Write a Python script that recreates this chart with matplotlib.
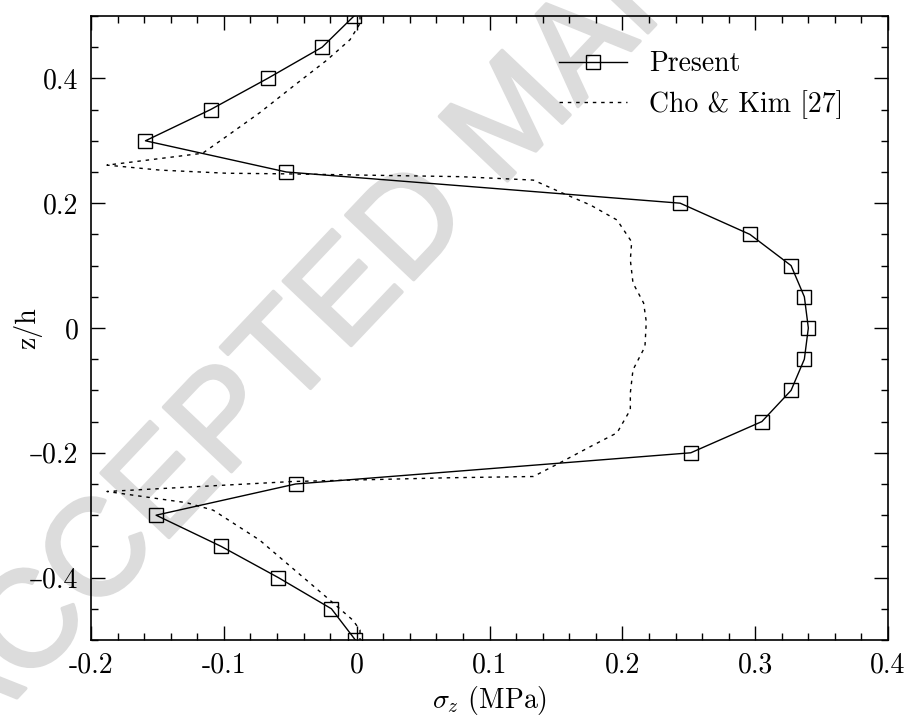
import matplotlib
matplotlib.use("Agg")
import matplotlib.pyplot as plt
import matplotlib.patheffects as pe
from matplotlib.ticker import MultipleLocator

plt.rcParams['font.family'] = ['cmr10', 'DejaVu Serif']
plt.rcParams['mathtext.fontset'] = 'cm'
plt.rcParams['axes.unicode_minus'] = False
plt.rcParams['axes.formatter.use_mathtext'] = True

# Present
z_present = [0.5, 0.45, 0.4, 0.35, 0.3, 0.25, 0.2, 0.15, 0.1, 0.05, 0.0,
             -0.05, -0.1, -0.15, -0.2, -0.25, -0.3, -0.35, -0.4, -0.45, -0.5]
s_present = [-0.002, -0.026, -0.067, -0.110, -0.159, -0.053, 0.2435, 0.296, 0.327, 0.337, 0.340,
             0.337, 0.327, 0.305, 0.2515, -0.046, -0.151, -0.102, -0.059, -0.019, -0.001]

# Cho & Kim [27]
z_cho = [0.5, 0.488, 0.462, 0.429, 0.387, 0.345, 0.307, 0.280, 0.261, 0.253, 0.248, 0.247,
         0.2425, 0.237, 0.218, 0.197, 0.173, 0.138, 0.109, 0.072, 0.040, 0.010,
         -0.030, -0.067, -0.104, -0.131, -0.168, -0.190, -0.216, -0.238, -0.240, -0.246,
         -0.262, -0.280, -0.292, -0.340, -0.431, -0.468, -0.484, -0.5]
s_cho = [0.0025, 0.0025, -0.005, -0.0226, -0.048, -0.073, -0.098, -0.116, -0.188, -0.148, -0.098, -0.053,
         0.078, 0.133, 0.153, 0.176, 0.196, 0.207, 0.206, 0.208, 0.216, 0.218,
         0.217, 0.208, 0.206, 0.206, 0.196, 0.176, 0.153, 0.133, 0.070, -0.048,
         -0.188, -0.128, -0.108, -0.073, -0.023, -0.003, 0.0025, 0.0025]

xticks = [-0.2, -0.1, 0.0, 0.1, 0.2, 0.3, 0.4]
xticklabels = ['-0.2', '-0.1', '0', '0.1', '0.2', '0.3', '0.4']
yticks = [-0.4, -0.2, 0.0, 0.2, 0.4]
yticklabels = ['\u20130.4', '\u20130.2', '0', '0.2', '0.4']

fig = plt.figure(figsize=(9.11, 7.23), dpi=100)
ax = fig.add_axes([0.0999, 0.1148, 0.8749, 0.8631])
ax.patch.set_alpha(0)

wm = fig.text(0.594, 0.799, 'ACCEPTED MANUSCRIPT', family='Liberation Sans', fontweight='normal',
              fontsize=98, rotation=46.5, color='#dcdcdc', ha='center', va='baseline',
              zorder=-5, rotation_mode='anchor')
wm.set_path_effects([pe.withStroke(linewidth=2.5, foreground='#dcdcdc')])

ax.plot(s_present, z_present, '-', color='black', lw=1.0, marker='s', ms=10,
        mfc='none', mec='black', mew=1.0, label='Present', zorder=3)
ax.plot(s_cho, z_cho, color='black', lw=1.0, linestyle=(0, (2.5, 3.5)),
        label='Cho & Kim [27]', zorder=2)

ax.set_xlim(-0.2, 0.4)
ax.set_ylim(-0.5, 0.5)
ax.set_xticks(xticks)
ax.set_xticklabels(xticklabels)
ax.set_yticks(yticks)
ax.set_yticklabels(yticklabels)
ax.xaxis.set_minor_locator(MultipleLocator(0.02))
ax.yaxis.set_minor_locator(MultipleLocator(0.05))
ax.tick_params(which='both', direction='in', top=True, right=True, labelsize=20, width=1.0)
ax.tick_params(which='major', length=10, pad=9)
ax.tick_params(which='minor', length=5)
for sp in ax.spines.values():
    sp.set_linewidth(1.2)

ax.set_xlabel(r'$\sigma_z$ (MPa)', fontsize=20, labelpad=4)
ax.set_ylabel('z/h', fontsize=20)
ax.yaxis.set_label_coords(-0.061, 0.5)

ax.legend(loc='upper right', bbox_to_anchor=(0.975, 0.984), frameon=False, fontsize=20,
          handlelength=2.45, handletextpad=0.8, labelspacing=0.45)

fig.savefig('out.png', dpi=100)
